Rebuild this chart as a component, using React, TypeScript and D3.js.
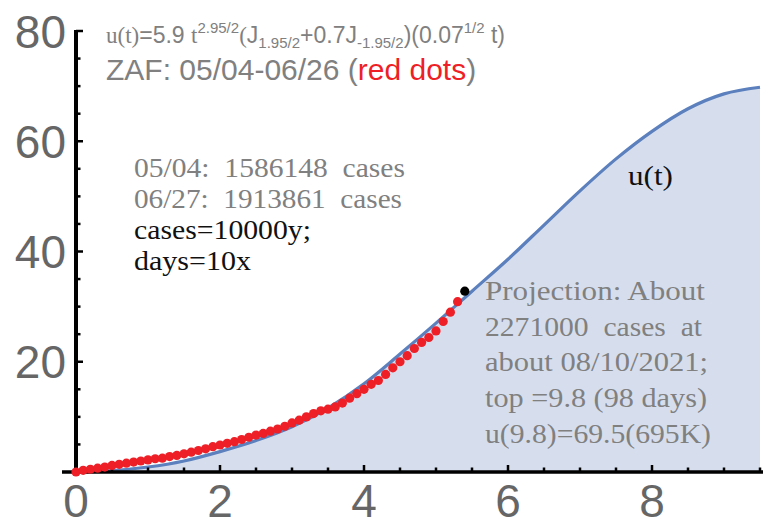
import React from "react";
import * as d3 from "d3";

const curveX = [0, 0.5, 1, 1.5, 2, 2.5, 3, 3.5, 4, 4.5, 5, 5.5, 6, 6.5, 7, 7.5, 8, 8.5, 9, 9.5];
const curveY = [0, 0.25, 0.9, 2.0, 3.7, 5.7, 8.2, 11.6, 16.0, 21.4, 27.0, 32.8, 38.6, 44.8, 51.0, 56.8, 61.8, 65.9, 68.6, 69.8];

const dotX = [
  0.0, 0.1, 0.2, 0.3, 0.4, 0.5, 0.6, 0.7, 0.8, 0.9, 1.0, 1.1, 1.2, 1.3, 1.4, 1.5, 1.6, 1.7,
  1.8, 1.9, 2.0, 2.1, 2.2, 2.3, 2.4, 2.5, 2.6, 2.7, 2.8, 2.9, 3.0, 3.1, 3.2, 3.3, 3.4, 3.5,
  3.6, 3.7, 3.8, 3.9, 4.0, 4.1, 4.2, 4.3, 4.4, 4.5, 4.6, 4.7, 4.8, 4.9, 5.0, 5.1, 5.2, 5.3,
];
const dotY = [
  0, 0.3, 0.5, 0.7, 0.9, 1.2, 1.4, 1.6, 1.8, 2.0, 2.2, 2.4, 2.5, 2.8, 3.0, 3.3, 3.6, 3.9,
  4.2, 4.6, 4.9, 5.2, 5.5, 5.9, 6.3, 6.7, 7.0, 7.4, 7.8, 8.3, 8.9, 9.4, 10.0, 10.6, 11.1, 11.4,
  11.8, 12.5, 13.4, 14.2, 15.0, 15.9, 16.6, 17.7, 18.9, 20.0, 21.1, 22.4, 23.5, 24.4, 25.6, 27.3, 29.0, 30.9,
];
const lastPoint = { x: 5.4, y: 32.8 };

const xMajor = [0, 2, 4, 6, 8];
const xMinor = [0.5, 1, 1.5, 2.5, 3, 3.5, 4.5, 5, 5.5, 6.5, 7, 7.5, 8.5, 9, 9.5];
const yMajor = [20, 40, 60, 80];
const yMinor = [5, 10, 15, 25, 30, 35, 45, 50, 55, 65, 70, 75];

const infoLines = ["05/04:  1586148  cases", "06/27:  1913861  cases"];
const infoWidths = [271, 268];
const noteLines = ["cases=10000y;", "days=10x"];
const noteWidths = [177, 117];
const projLines = [
  "Projection: About",
  "2271000  cases  at",
  "about 08/10/2021;",
  "top =9.8 (98 days)",
  "u(9.8)=69.5(695K)",
];
const projWidths = [220, 217, 223, 222, 226];

const SERIF = "'Liberation Serif', 'DejaVu Serif', serif";
const SANS = "'Liberation Sans', Arial, sans-serif";
const GRAY = "#808080";
const TICKGRAY = "#666666";

export default function App() {
  const W = 763;
  const H = 527;
  const x = d3.scaleLinear().domain([0, 9.5]).range([76, 760]);
  const y = d3.scaleLinear().domain([0, 80]).range([472, 31]);

  const pts: [number, number][] = curveX.map((v, i) => [v, curveY[i]]);
  const line = d3
    .line<[number, number]>()
    .x((d) => x(d[0]))
    .y((d) => y(d[1]))
    .curve(d3.curveMonotoneX);
  const area = d3
    .area<[number, number]>()
    .x((d) => x(d[0]))
    .y0(y(0))
    .y1((d) => y(d[1]))
    .curve(d3.curveMonotoneX);

  return (
    <svg
      width={W}
      height={H}
      style={{ position: "absolute", left: 0, top: 0, background: "#fff" }}
    >
      <path d={area(pts) || ""} fill="rgb(214,222,237)" />
      <path d={line(pts) || ""} fill="none" stroke="#5b80bd" strokeWidth={3.2} />

      {/* axes */}
      <line x1={x(0)} x2={x(0)} y1={y(80) - 1} y2={y(0) + 2} stroke="#000" strokeWidth={4} />
      <line x1={62} x2={763} y1={y(0)} y2={y(0)} stroke="#000" strokeWidth={3.5} />
      {xMajor.map((v) => (
        <line key={"xM" + v} x1={x(v)} x2={x(v)} y1={y(0)} y2={y(0) - 7} stroke="#000" strokeWidth={2.5} />
      ))}
      {xMinor.map((v) => (
        <line key={"xm" + v} x1={x(v)} x2={x(v)} y1={y(0)} y2={y(0) - 4.5} stroke="#000" strokeWidth={2.5} />
      ))}
      {yMajor.map((v) => (
        <line key={"yM" + v} x1={x(0)} x2={x(0) + 7} y1={y(v)} y2={y(v)} stroke="#000" strokeWidth={2.5} />
      ))}
      {yMinor.map((v) => (
        <line key={"ym" + v} x1={x(0)} x2={x(0) + 4.5} y1={y(v)} y2={y(v)} stroke="#000" strokeWidth={2.5} />
      ))}
      {xMajor.map((v) => (
        <text key={"xl" + v} x={x(v)} y={517} textAnchor="middle" fontFamily={SANS} fontSize={46} fill={TICKGRAY}>
          {v}
        </text>
      ))}
      {yMajor.map((v) => (
        <text key={"yl" + v} x={66} y={y(v) + 16.5} textAnchor="end" fontFamily={SANS} fontSize={46} fill={TICKGRAY}>
          {v}
        </text>
      ))}

      {/* data dots */}
      {dotX.map((v, i) => (
        <circle key={"d" + i} cx={x(v)} cy={y(dotY[i])} r={4.6} fill="#ee1f26" />
      ))}
      <circle cx={x(lastPoint.x)} cy={y(lastPoint.y)} r={4.6} fill="#000" />

      {/* formula */}
      <text x={106} y={43} fontSize={23} fill={GRAY} fontFamily={SANS}>
        <tspan fontFamily={SERIF}>u(t)</tspan>
        <tspan>=5.9 </tspan>
        <tspan fontFamily={SERIF}>t</tspan>
        <tspan fontSize={15} dy={-10}>2.95/2</tspan>
        <tspan dy={10} fontFamily={SERIF}>(</tspan>
        <tspan>J</tspan>
        <tspan fontSize={15} dy={5}>1.95/2</tspan>
        <tspan dy={-5}>+0.7J</tspan>
        <tspan fontSize={15} dy={5}>-1.95/2</tspan>
        <tspan dy={-5}>)(0.07</tspan>
        <tspan fontSize={15} dy={-10}>1/2</tspan>
        <tspan dy={10}> t)</tspan>
      </text>
      <text x={106} y={80} fontSize={30} fill={GRAY} fontFamily={SANS}>
        <tspan>ZAF: 05/04-06/26 (</tspan>
        <tspan fill="#ee1f26">red dots</tspan>
        <tspan>)</tspan>
      </text>

      {infoLines.map((t, i) => (
        <text key={"i" + i} x={134} y={177 + i * 31} fontSize={27} fill={GRAY} fontFamily={SERIF}
          textLength={infoWidths[i]} lengthAdjust="spacingAndGlyphs" style={{ whiteSpace: "pre" }}>
          {t}
        </text>
      ))}
      {noteLines.map((t, i) => (
        <text key={"n" + i} x={134} y={239 + i * 31} fontSize={27} fill="#111" fontFamily={SERIF}
          textLength={noteWidths[i]} lengthAdjust="spacingAndGlyphs">
          {t}
        </text>
      ))}
      {projLines.map((t, i) => (
        <text key={"p" + i} x={485} y={300 + i * 35.7} fontSize={27} fill={GRAY} fontFamily={SERIF}
          textLength={projWidths[i]} lengthAdjust="spacingAndGlyphs" style={{ whiteSpace: "pre" }}>
          {t}
        </text>
      ))}
      <text x={628} y={185} fontSize={27} fill="#111" fontFamily={SERIF} textLength={45} lengthAdjust="spacingAndGlyphs">
        u(t)
      </text>
    </svg>
  );
}
